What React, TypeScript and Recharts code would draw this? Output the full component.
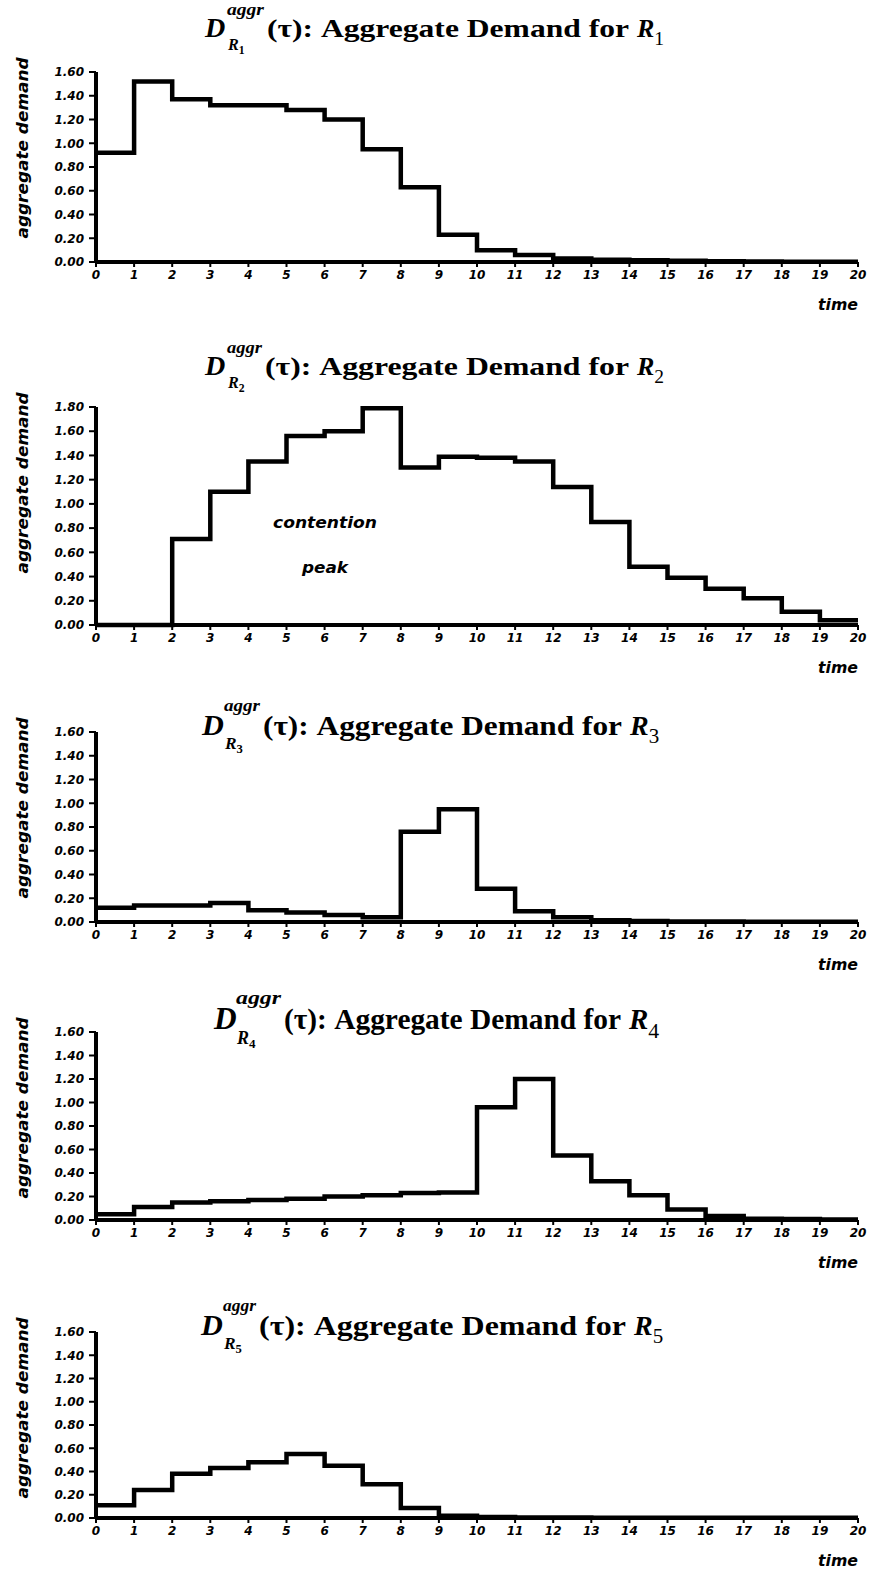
import React from "react";
import { LineChart, Line, XAxis, YAxis } from "recharts";

// time steps 0..20 (tick labels on every panel)
const TIME_TICKS = [0, 1, 2, 3, 4, 5, 6, 7, 8, 9, 10, 11, 12, 13, 14, 15, 16, 17, 18, 19, 20];
const DEMAND_TICKS = [0, 0.2, 0.4, 0.6, 0.8, 1.0, 1.2, 1.4, 1.6];
const DEMAND_TICKS_WIDE = [0, 0.2, 0.4, 0.6, 0.8, 1.0, 1.2, 1.4, 1.6, 1.8];

// aggregate demand per unit interval [t, t+1)
const R1_DEMAND = [0.92, 1.52, 1.37, 1.32, 1.32, 1.28, 1.2, 0.95, 0.63, 0.23, 0.1, 0.06, 0.03, 0.02, 0.015, 0.01, 0.006, 0.004, 0.003, 0.002];
const R2_DEMAND = [0, 0, 0.71, 1.1, 1.35, 1.56, 1.6, 1.79, 1.3, 1.39, 1.38, 1.35, 1.14, 0.85, 0.48, 0.39, 0.3, 0.22, 0.11, 0.04];
const R3_DEMAND = [0.12, 0.14, 0.14, 0.16, 0.1, 0.08, 0.06, 0.04, 0.76, 0.95, 0.28, 0.09, 0.04, 0.015, 0.008, 0.005, 0.004, 0.003, 0.003, 0.003];
const R4_DEMAND = [0.05, 0.11, 0.15, 0.16, 0.17, 0.18, 0.2, 0.21, 0.23, 0.235, 0.96, 1.2, 0.55, 0.33, 0.21, 0.09, 0.035, 0.01, 0.008, 0.005];
const R5_DEMAND = [0.11, 0.24, 0.38, 0.43, 0.48, 0.55, 0.45, 0.29, 0.085, 0.02, 0.008, 0.005, 0.004, 0.003, 0.003, 0.003, 0.003, 0.003, 0.003, 0.003];

const PANELS = [
  { id: 1, values: R1_DEMAND, ticks: DEMAND_TICKS, top: 72, bottom: 262, tBase: 37, tSize: 26, dX: 205, parenX: 267, rX: 637 },
  { id: 2, values: R2_DEMAND, ticks: DEMAND_TICKS_WIDE, top: 407, bottom: 625, tBase: 375, tSize: 26, dX: 205, parenX: 265, rX: 637 },
  { id: 3, values: R3_DEMAND, ticks: DEMAND_TICKS, top: 732, bottom: 922, tBase: 735, tSize: 28, dX: 202, parenX: 263, rX: 630 },
  { id: 4, values: R4_DEMAND, ticks: DEMAND_TICKS, top: 1032, bottom: 1220, tBase: 1029, tSize: 29, dX: 214, parenX: 284, rX: 629 },
  { id: 5, values: R5_DEMAND, ticks: DEMAND_TICKS, top: 1332, bottom: 1518, tBase: 1335, tSize: 28, dX: 201, parenX: 259, rX: 634 },
];

const W = 871;
const PLOT_LEFT = 96;
const PLOT_RIGHT = 858;
const SANS = "DejaVu Sans, sans-serif";
const SERIF = "Liberation Serif, Times New Roman, serif";

const tickStyle = { fill: "#000", fontSize: 12, fontWeight: 700, fontStyle: "italic", fontFamily: SANS };

function DemandPanel({ p }) {
  const data = TIME_TICKS.map((t, i) => ({ t, v: p.values[Math.min(i, p.values.length - 1)] }));
  const mt = 10;
  const xh = 40;
  const yMax = p.ticks[p.ticks.length - 1];
  return (
    <div style={{ position: "absolute", left: 0, top: p.top - mt }}>
      <LineChart
        width={W}
        height={p.bottom - p.top + mt + xh}
        data={data}
        margin={{ top: mt, right: W - PLOT_RIGHT, bottom: 0, left: 0 }}
      >
        <XAxis
          dataKey="t"
          type="number"
          domain={[0, 20]}
          ticks={TIME_TICKS}
          interval={0}
          height={xh}
          tickSize={5}
          tickMargin={3}
          axisLine={{ stroke: "#000", strokeWidth: 4 }}
          tickLine={{ stroke: "#000", strokeWidth: 2 }}
          tick={tickStyle}
        />
        <YAxis
          type="number"
          domain={[0, yMax]}
          ticks={p.ticks}
          interval={0}
          width={PLOT_LEFT}
          tickSize={7}
          tickMargin={5}
          tickFormatter={(v) => v.toFixed(2)}
          axisLine={{ stroke: "#000", strokeWidth: 4 }}
          tickLine={{ stroke: "#000", strokeWidth: 2 }}
          tick={tickStyle}
        />
        <Line type="stepAfter" dataKey="v" stroke="#000" strokeWidth={4.5} dot={false} isAnimationActive={false} />
      </LineChart>
    </div>
  );
}

function PanelText({ p }) {
  const f = p.tSize;
  const b = p.tBase;
  return (
    <g fill="#000">
      {/* title: D^aggr_{R_n}(τ): Aggregate Demand for R_n */}
      <text x={p.dX} y={b} fontFamily={SERIF} fontStyle="italic" fontWeight={700} fontSize={1.08 * f}>D</text>
      <text x={p.dX + 22} y={b - 0.85 * f} fontFamily={SERIF} fontStyle="italic" fontWeight={700} fontSize={0.62 * f}
        textLength={p.parenX - p.dX - 25} lengthAdjust="spacingAndGlyphs">aggr</text>
      <text x={p.dX + 23} y={b + 0.5 * f} fontFamily={SERIF} fontStyle="italic" fontWeight={700} fontSize={0.62 * f}>
        R<tspan fontSize={0.45 * f} fontStyle="normal" dy={0.15 * f}>{p.id}</tspan>
      </text>
      <text x={p.parenX} y={b} fontFamily={SERIF} fontWeight={700} fontSize={f}
        textLength={p.rX - p.parenX - 8} lengthAdjust="spacingAndGlyphs">(τ): Aggregate Demand for</text>
      <text x={p.rX} y={b} fontFamily={SERIF} fontStyle="italic" fontWeight={700} fontSize={f}>
        R<tspan fontSize={0.75 * f} fontStyle="normal" fontWeight={400} dy={0.3 * f}>{p.id}</tspan>
      </text>
      {/* axis titles */}
      <text
        transform={`translate(23, ${p.top + 76}) rotate(-90)`}
        textAnchor="middle"
        dominantBaseline="central"
        fontFamily={SANS}
        fontWeight={700}
        fontStyle="italic"
        fontSize={15}
        textLength={181}
        lengthAdjust="spacingAndGlyphs"
      >
        aggregate demand
      </text>
      <text x={PLOT_RIGHT} y={p.bottom + 48} textAnchor="end" fontFamily={SANS} fontWeight={700} fontStyle="italic"
        fontSize={15} textLength={40} lengthAdjust="spacingAndGlyphs">time</text>
    </g>
  );
}

export default function App() {
  return (
    <div style={{ position: "absolute", left: 0, top: 0, width: W, height: 1571, background: "#fff" }}>
      {PANELS.map((p) => (
        <DemandPanel key={p.id} p={p} />
      ))}
      <svg width={W} height={1571} style={{ position: "absolute", left: 0, top: 0, pointerEvents: "none" }}>
        {PANELS.map((p) => (
          <PanelText key={p.id} p={p} />
        ))}
        <text x={325} y={528} textAnchor="middle" fontFamily={SANS} fontWeight={700} fontStyle="italic" fontSize={16}
          textLength={104} lengthAdjust="spacingAndGlyphs">contention</text>
        <text x={325} y={573} textAnchor="middle" fontFamily={SANS} fontWeight={700} fontStyle="italic" fontSize={16}
          textLength={46} lengthAdjust="spacingAndGlyphs">peak</text>
      </svg>
    </div>
  );
}
